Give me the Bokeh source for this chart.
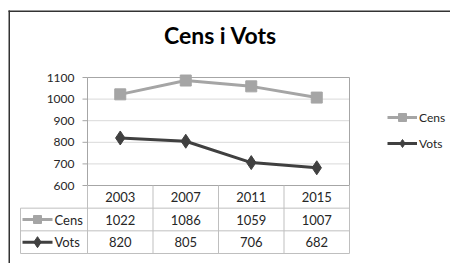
from bokeh.plotting import figure
from bokeh.models import Range1d, Legend, LegendItem
from bokeh.core.properties import value
from bokeh.embed import file_html
from bokeh.resources import INLINE

# ---- data ----
title_text = "Cens i Vots"
years = ["2003", "2007", "2011", "2015"]
cens = [1022, 1086, 1059, 1007]
vots = [820, 805, 706, 682]
y_ticks = [600, 700, 800, 900, 1000, 1100]
series_names = ["Cens", "Vots"]

# ---- layout (figure pixels) ----
W, H = 450, 263
PL, PR, PT, PB = 87, 349, 77, 185      # plot area
VMIN, VMAX = 600, 1100
ROWH = 22.67
TBL_LEFT_PX = 67                          # row-header column width
FONT = "Lato"
C_CENS = "#a5a5a5"
C_VOTS = "#404040"
C_TEXT = "#262626"

n = len(years)
colw = (PR - PL) / n
ppv = (PB - PT) / (VMAX - VMIN)
idx = list(range(n))

x_range = Range1d(-0.5 - PL / colw, -0.5 + (W - PL) / colw)
y_range = Range1d(VMAX - (H - PT) / ppv, VMAX + PT / ppv)

p = figure(width=W, height=H, x_range=x_range, y_range=y_range,
           output_backend="svg", toolbar_location=None, min_border=0,
           x_axis_location=None, y_axis_location=None,
           outline_line_color=None, background_fill_color="white",
           border_fill_color="white")
p.grid.visible = False
p.extra_x_ranges = {"px": Range1d(0, W)}
p.extra_y_ranges = {"px": Range1d(H, 0)}

# gridlines
p.segment(x0=[-0.5] * len(y_ticks), x1=[n - 0.5] * len(y_ticks), y0=y_ticks, y1=y_ticks,
          line_color="#d9d9d9", line_width=1)
# plot area border
p.quad(left=-0.5, right=n - 0.5, bottom=VMIN, top=VMAX, fill_color=None,
       line_color="#a6a6a6", line_width=1)
# y ticks
tick_len = 5 / colw
p.segment(x0=[-0.5 - tick_len] * len(y_ticks), x1=[-0.5] * len(y_ticks), y0=y_ticks, y1=y_ticks,
          line_color="#a6a6a6", line_width=1)
p.text(x=[-0.5 - 13 / colw] * len(y_ticks), y=y_ticks, text=[str(t) for t in y_ticks],
       text_align="right", text_baseline="middle", text_font=value(FONT),
       text_font_size="12px", text_color=C_TEXT)

# series
cl = p.line(idx, cens, line_color=C_CENS, line_width=3)
cm = p.scatter(idx, cens, marker="square", size=11, fill_color=C_CENS, line_color=C_CENS)
vl = p.line(idx, vots, line_color=C_VOTS, line_width=3)
vm = p.scatter(idx, vots, marker="diamond", size=14, fill_color=C_VOTS, line_color=C_VOTS)

# ---- data table ----
tl = -0.5 - TBL_LEFT_PX / colw
rows_y = [PB + ROWH * k for k in range(4)]
tbl_line = "#bfbfbf"
# vertical column lines
p.segment(x0=[i - 0.5 for i in range(n + 1)], x1=[i - 0.5 for i in range(n + 1)],
          y0=[PB] * (n + 1), y1=[rows_y[3]] * (n + 1), y_range_name="px",
          line_color=tbl_line, line_width=1)
p.segment(x0=[tl], x1=[tl], y0=[rows_y[1]], y1=[rows_y[3]], y_range_name="px",
          line_color=tbl_line, line_width=1)
p.segment(x0=[tl] * 3, x1=[n - 0.5] * 3, y0=rows_y[1:], y1=rows_y[1:], y_range_name="px",
          line_color=tbl_line, line_width=1)
# header years
p.text(x=idx, y=[PB + ROWH * 0.5] * n, text=years, y_range_name="px",
       text_align="center", text_baseline="middle", text_font=value(FONT),
       text_font_size="13px", text_color=C_TEXT)
for r, (name, vals, col, mk, sz) in enumerate(
        [("Cens", cens, C_CENS, "square", 8), ("Vots", vots, C_VOTS, "diamond", 11)], start=1):
    yc = PB + ROWH * (r + 0.5)
    p.text(x=idx, y=[yc] * n, text=[str(v) for v in vals], y_range_name="px",
           text_align="center", text_baseline="middle", text_font=value(FONT),
           text_font_size="13px", text_color=C_TEXT)
    p.line(x=[tl + 2 / colw, tl + 32 / colw], y=[yc, yc], y_range_name="px",
           line_color=col, line_width=3)
    p.scatter(x=[tl + 17 / colw], y=[yc], marker=mk, size=sz, y_range_name="px",
              fill_color=col, line_color=col)
    p.text(x=[tl + 34 / colw], y=[yc], text=[name], y_range_name="px",
           text_align="left", text_baseline="middle", text_font=value(FONT),
           text_font_size="13px", text_color=C_TEXT)

# ---- legend ----
legend = Legend(items=[LegendItem(label=series_names[0], renderers=[cl, cm]),
                       LegendItem(label=series_names[1], renderers=[vl, vm])],
                location=(387, H - 153), glyph_width=30, glyph_height=20, spacing=6,
                label_standoff=2, padding=0, margin=0, border_line_color=None,
                background_fill_alpha=0, label_text_font=FONT,
                label_text_font_size="12px", label_text_color=C_TEXT)
p.add_layout(legend)

# ---- title ----
p.text(x=[220], y=[34], text=[title_text], x_range_name="px", y_range_name="px",
       text_align="center", text_baseline="middle", text_font=value(FONT),
       text_font_style="bold", text_font_size="23px", text_color="#000000")

# ---- chart border (top & left) ----
p.segment(x0=[8, 8.75], x1=[W, 8.75], y0=[10.75, 10], y1=[10.75, H], x_range_name="px",
          y_range_name="px", line_color="#333333", line_width=1.5)

open("out.html", "w").write(file_html(p, INLINE))
